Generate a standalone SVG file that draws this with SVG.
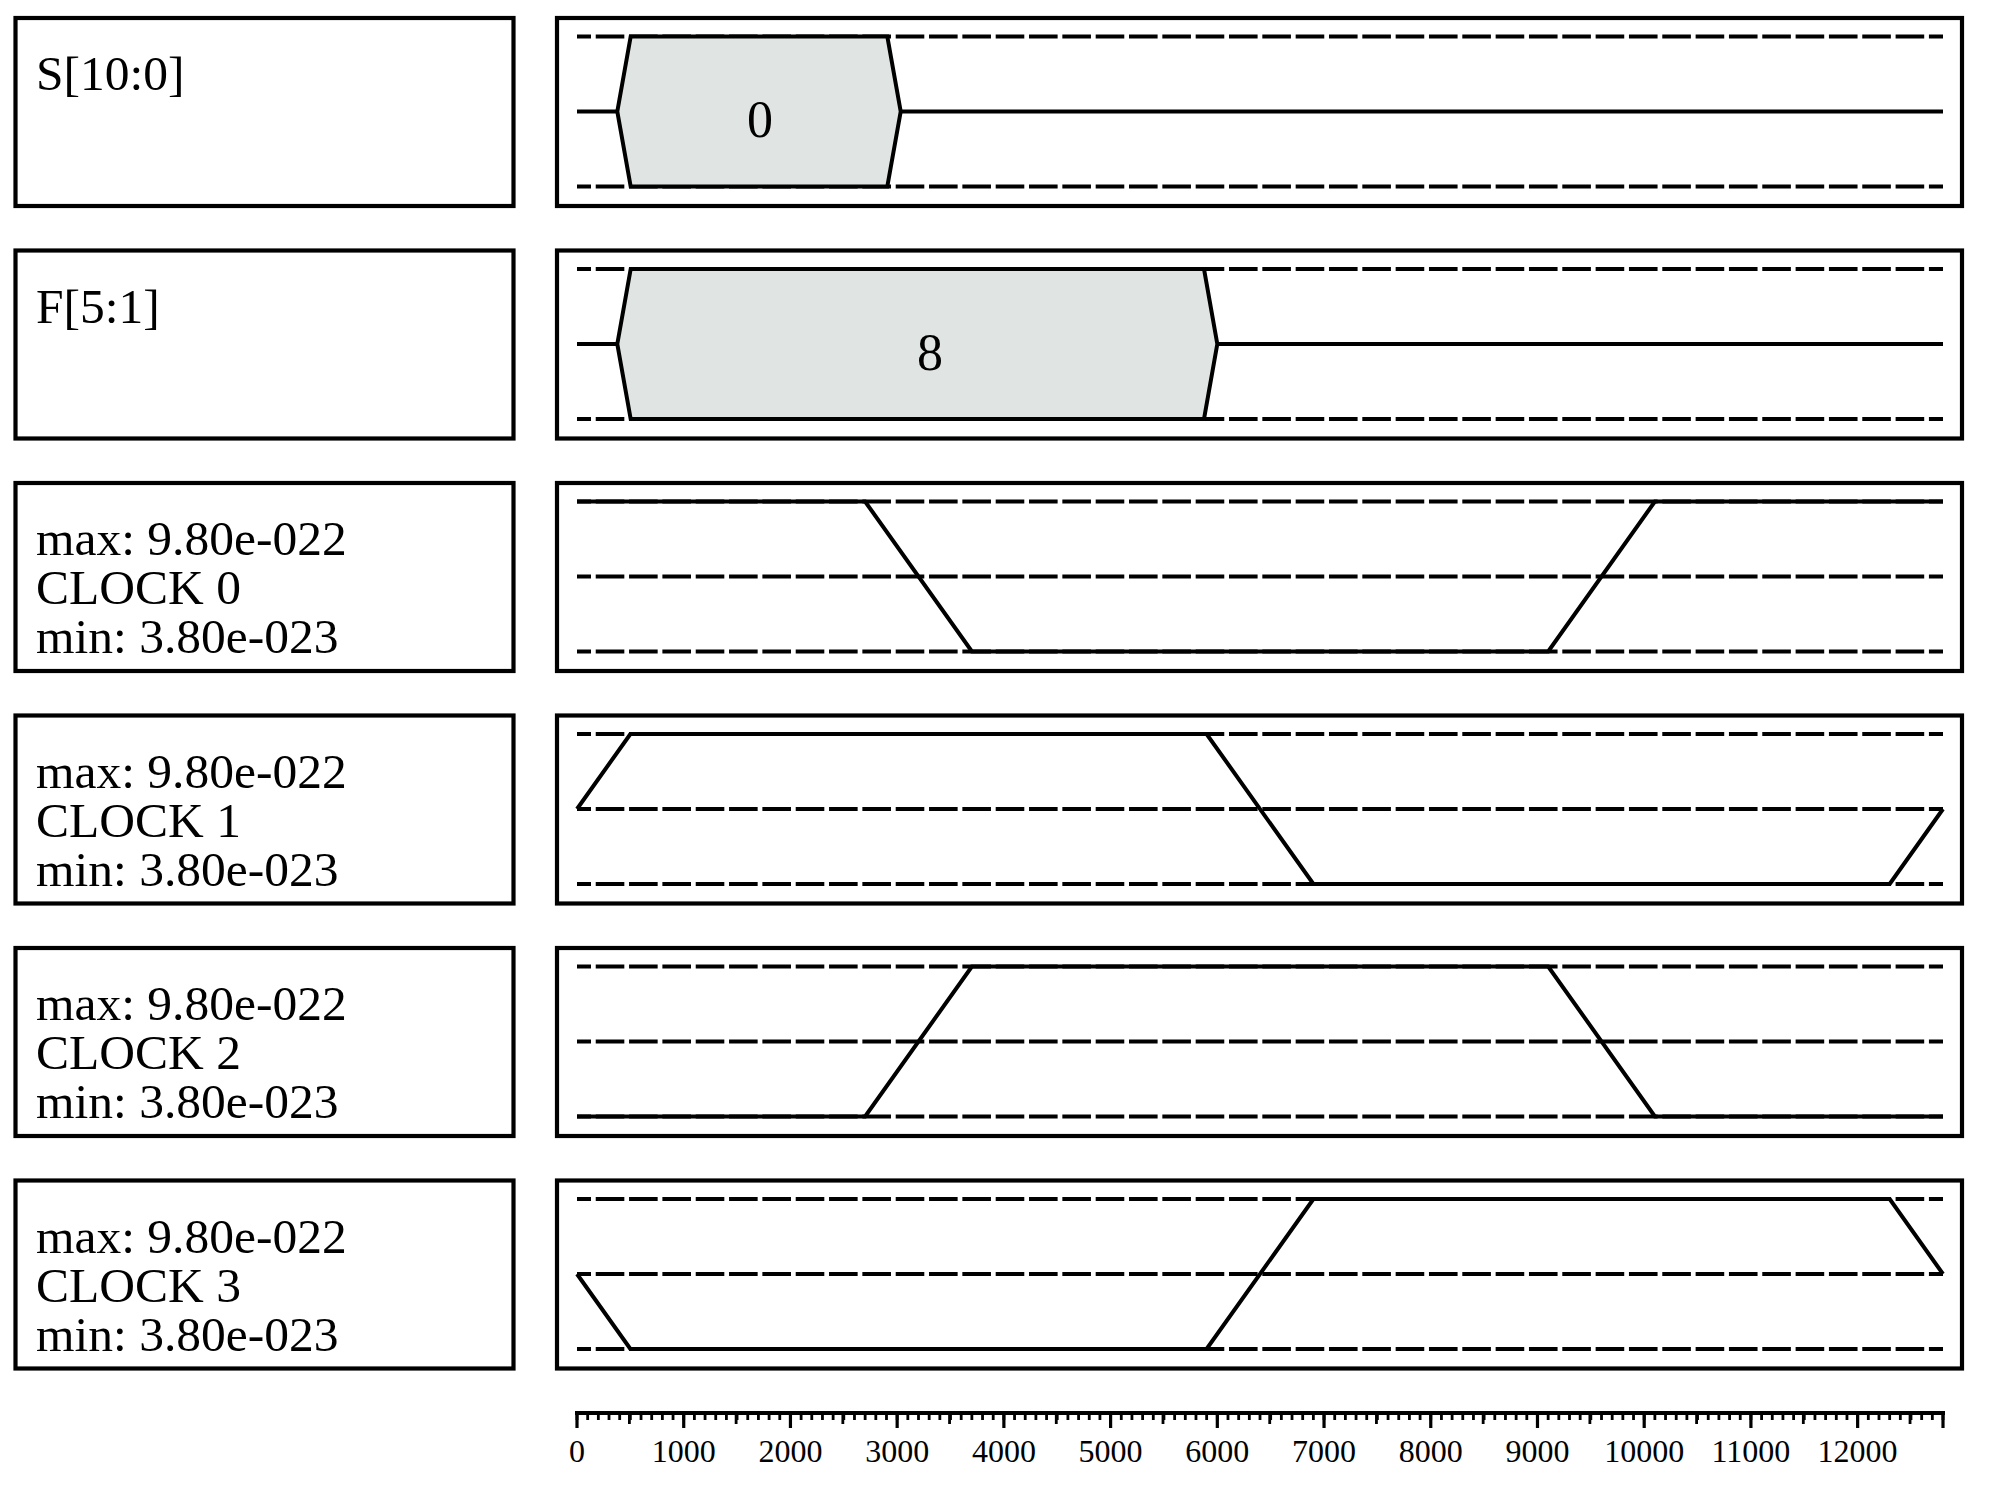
<svg xmlns="http://www.w3.org/2000/svg" width="1989" height="1491" viewBox="0 0 1989 1491">
<style>
.box{fill:#fff;stroke:#000;stroke-width:4.2}
.lbl{font-family:"Liberation Serif","Times New Roman",serif;font-size:49.5px;fill:#000}
.val{font-family:"Liberation Serif","Times New Roman",serif;font-size:52px;fill:#000;text-anchor:middle}
.ax{font-family:"Liberation Serif","Times New Roman",serif;font-size:32px;fill:#000;text-anchor:middle}
.dash{fill:none;stroke:#000;stroke-width:4;stroke-dasharray:28.6 4.73;stroke-dashoffset:14.6}
.sig{fill:none;stroke:#000;stroke-width:4;stroke-linejoin:miter}
.bus{fill:#e0e5e3;stroke:#000;stroke-width:4;stroke-linejoin:miter}
</style>
<rect width="1989" height="1491" fill="#fff"/>

<g id="row-S">
  <rect class="box" x="15.5" y="18" width="498" height="188"/>
  <text class="lbl" x="36" y="90">S[10:0]</text>
  <rect class="box" x="557" y="18" width="1405" height="188"/>
  <path class="dash" d="M577 36.5H1943M577 186.5H1943"/>
  <path class="sig" d="M577 111.5H1943"/>
  <polygon class="bus" points="617.3,111.5 630.7,36.5 887.3,36.5 900.7,111.5 887.3,186.5 630.7,186.5"/>
  <text class="val" x="760" y="137">0</text>
</g>

<g id="row-F">
  <rect class="box" x="15.5" y="250.5" width="498" height="188"/>
  <text class="lbl" x="36" y="322.5">F[5:1]</text>
  <rect class="box" x="557" y="250.5" width="1405" height="188"/>
  <path class="dash" d="M577 269H1943M577 419H1943"/>
  <path class="sig" d="M577 344H1943"/>
  <polygon class="bus" points="617.3,344 630.7,269 1204,269 1217.3,344 1204,419 630.7,419"/>
  <text class="val" x="930" y="369.5">8</text>
</g>

<g id="row-clock0">
  <rect class="box" x="15.5" y="483" width="498" height="188"/>
  <text class="lbl" x="36" y="555">max: 9.80e-022</text>
  <text class="lbl" x="36" y="604">CLOCK 0</text>
  <text class="lbl" x="36" y="653">min: 3.80e-023</text>
  <rect class="box" x="557" y="483" width="1405" height="188"/>
  <path class="dash" d="M577 501.5H1943M577 576.5H1943M577 651.5H1943"/>
  <polyline class="sig" points="577,501.5 865.1,501.5 971.9,651.5 1548.2,651.5 1654.9,501.5 1943,501.5"/>
</g>

<g id="row-clock1">
  <rect class="box" x="15.5" y="715.5" width="498" height="188"/>
  <text class="lbl" x="36" y="787.5">max: 9.80e-022</text>
  <text class="lbl" x="36" y="836.5">CLOCK 1</text>
  <text class="lbl" x="36" y="885.5">min: 3.80e-023</text>
  <rect class="box" x="557" y="715.5" width="1405" height="188"/>
  <path class="dash" d="M577 734H1943M577 809H1943M577 884H1943"/>
  <polyline class="sig" points="577,809 630.4,734 1206.6,734 1313.4,884 1889.7,884 1943,809"/>
</g>

<g id="row-clock2">
  <rect class="box" x="15.5" y="948" width="498" height="188"/>
  <text class="lbl" x="36" y="1020">max: 9.80e-022</text>
  <text class="lbl" x="36" y="1069">CLOCK 2</text>
  <text class="lbl" x="36" y="1118">min: 3.80e-023</text>
  <rect class="box" x="557" y="948" width="1405" height="188"/>
  <path class="dash" d="M577 966.5H1943M577 1041.5H1943M577 1116.5H1943"/>
  <polyline class="sig" points="577,1116.5 865.1,1116.5 971.9,966.5 1548.2,966.5 1654.9,1116.5 1943,1116.5"/>
</g>

<g id="row-clock3">
  <rect class="box" x="15.5" y="1180.5" width="498" height="188"/>
  <text class="lbl" x="36" y="1252.5">max: 9.80e-022</text>
  <text class="lbl" x="36" y="1301.5">CLOCK 3</text>
  <text class="lbl" x="36" y="1350.5">min: 3.80e-023</text>
  <rect class="box" x="557" y="1180.5" width="1405" height="188"/>
  <path class="dash" d="M577 1199H1943M577 1274H1943M577 1349H1943"/>
  <polyline class="sig" points="577,1274 630.4,1349 1206.6,1349 1313.4,1199 1889.7,1199 1943,1274"/>
</g>

<g id="time-axis">
  <path d="M575 1413H1945" stroke="#000" stroke-width="4" fill="none"/>
  <path d="M575.6 1416.5H1945" stroke="#000" stroke-width="7" stroke-dasharray="2.8 7.872" fill="none"/>
  <path d="M628 1418.5H1945" stroke="#000" stroke-width="11" stroke-dasharray="2.8 103.92" fill="none"/>
  <path d="M575.4 1420.5H1945" stroke="#000" stroke-width="15" stroke-dasharray="3.2 103.52" fill="none"/>
  <path d="M1943 1413V1428" stroke="#000" stroke-width="3.2" fill="none"/>
  <text class="ax" x="577" y="1462">0</text>
  <text class="ax" x="683.7" y="1462">1000</text>
  <text class="ax" x="790.4" y="1462">2000</text>
  <text class="ax" x="897.2" y="1462">3000</text>
  <text class="ax" x="1003.9" y="1462">4000</text>
  <text class="ax" x="1110.6" y="1462">5000</text>
  <text class="ax" x="1217.3" y="1462">6000</text>
  <text class="ax" x="1324" y="1462">7000</text>
  <text class="ax" x="1430.8" y="1462">8000</text>
  <text class="ax" x="1537.5" y="1462">9000</text>
  <text class="ax" x="1644.2" y="1462">10000</text>
  <text class="ax" x="1750.9" y="1462">11000</text>
  <text class="ax" x="1857.6" y="1462">12000</text>
</g>
</svg>
